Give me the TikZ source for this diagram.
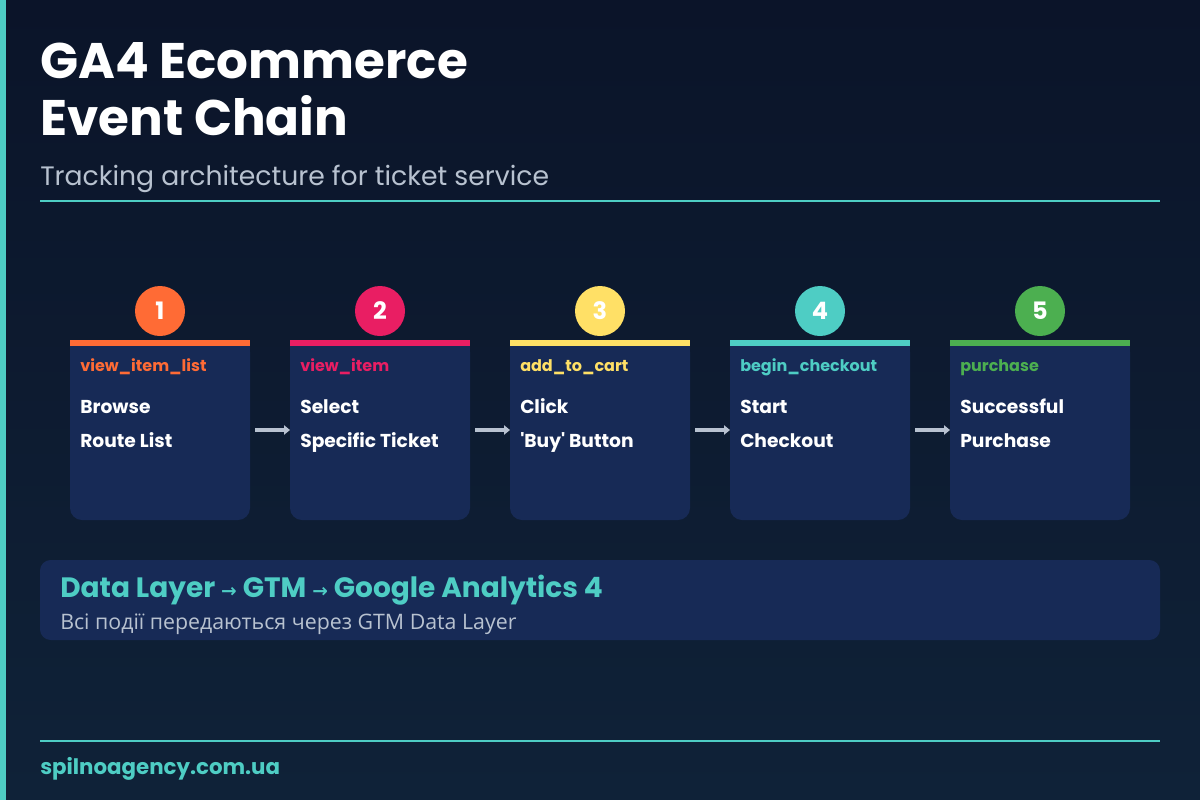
\documentclass[tikz,border=0pt]{standalone}
\usepackage{fontspec}
\usetikzlibrary{arrows.meta}
\setmainfont{Poppins}
\newfontfamily\cyr{Open Sans}
\newfontfamily\dv{DejaVu Sans}
\definecolor{bgA}{HTML}{0B1429}
\definecolor{bgB}{HTML}{0F2238}
\definecolor{teal}{HTML}{4ECDC4}
\definecolor{card}{HTML}{172A56}
\definecolor{cO}{HTML}{FF6B35}
\definecolor{cP}{HTML}{E91E63}
\definecolor{cY}{HTML}{FFE066}
\definecolor{cT}{HTML}{4ECDC4}
\definecolor{cG}{HTML}{4CAF50}
\definecolor{sub}{HTML}{B8C2D0}
\begin{document}
\begin{tikzpicture}[x=0.75pt,y=-0.75pt,
  txt/.style={anchor=base west,inner sep=0,text=white},
  arr/.style={color=sub,line width=2.4pt,-{Triangle[length=4.5pt,width=7pt]}}]
\shade[top color=bgA,bottom color=bgB] (0,0) rectangle (1200,800);
\useasboundingbox (0,0) rectangle (1200,800);
\fill[teal] (0,0) rectangle (6,800);
\node[txt,font=\bfseries\fontsize{37.5}{40}\selectfont] (t1) at (40,78) {GA4 Ecommerce};
\node[txt,font=\bfseries\fontsize{37.5}{40}\selectfont] (t2) at (40,135) {Event Chain};
\node[txt,text=sub,font=\fontsize{20}{22}\selectfont] (st) at (40,185) {Tracking architecture for ticket service};
\draw[teal,line width=2.2pt] (40,201) -- (1160,201);
\foreach \i/\c/\ev/\la/\lb in {1/cO/view\_item\_list/Browse/Route List,2/cP/view\_item/Select/Specific Ticket,3/cY/add\_to\_cart/Click/\textquotesingle Buy\textquotesingle{} Button,4/cT/begin\_checkout/Start/Checkout,5/cG/purchase/Successful/Purchase}{
  \pgfmathsetmacro\x{70+(\i-1)*220}
  \fill[card,rounded corners=9] (\x,340) rectangle ++(180,180);
  \fill[card] (\x,340) rectangle ++(180,20);
  \fill[\c] (\x,340) rectangle ++(180,6);
  \node[circle,fill=\c,minimum size=37.5pt,inner sep=0,text=white,font=\bfseries\fontsize{18}{20}\selectfont] (n\i) at (\x+90,311) {\i};
  \node[txt,text=\c,font=\bfseries\fontsize{12}{14}\selectfont] (e\i) at (\x+10,371) {\ev};
  \node[txt,font=\bfseries\fontsize{14}{16}\selectfont] (a\i) at (\x+10,413) {\la};
  \node[txt,font=\bfseries\fontsize{14}{16}\selectfont] (b\i) at (\x+10,447) {\lb};
  \coordinate (L\i) at (\x,430);
  \coordinate (R\i) at (\x+185,430);
}
\draw[arr] (R1) -- (L2);
\draw[arr] (R2) -- (L3);
\draw[arr] (R3) -- (L4);
\draw[arr] (R4) -- (L5);
\fill[card,rounded corners=8] (40,560) rectangle (1160,640);
\node[txt,text=teal,font=\bfseries\fontsize{21}{22}\selectfont] (dl) at (60,597) {Data Layer {\dv\fontsize{14}{16}\selectfont→} GTM {\dv\fontsize{14}{16}\selectfont→} Google Analytics 4};
\node[txt,text=sub,font=\cyr\fontsize{16}{18}\selectfont] (ds) at (60,629) {Всі події передаються через GTM Data Layer};
\draw[teal,line width=2.2pt] (40,741) -- (1160,741);
\node[txt,text=teal,font=\bfseries\fontsize{16}{18}\selectfont] (ft) at (40,774) {spilnoagency.com.ua};
\end{tikzpicture}
\end{document}
